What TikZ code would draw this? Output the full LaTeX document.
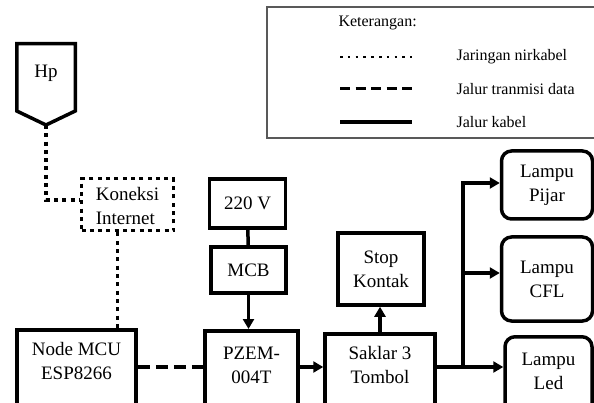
\documentclass[tikz,border=0pt]{standalone}
\usepackage{fontspec}
\setmainfont{Liberation Serif}
\usetikzlibrary{arrows.meta}

\begin{document}
\begin{tikzpicture}[x=1pt,y=-1pt,
  box/.style={draw,line width=3.5pt,align=center,font=\fontsize{19}{24}\selectfont},
  cutbox/.style={box,anchor=north,text depth=70pt},
  cable/.style={line width=3.5pt},
  arrowed/.style={cable,-{Triangle[length=10pt,width=11pt]}},
  wireless/.style={line width=3.5pt,dash pattern=on 4pt off 4.3pt},
  datapath/.style={line width=3.5pt,dash pattern=on 12pt off 6pt},
  legendtext/.style={anchor=west,font=\fontsize{16}{19}\selectfont}]
\useasboundingbox (0,0) rectangle (594,403);
\clip (0,0) rectangle (594,403);
% Legend
\draw[line width=1.2pt,black!65] (267,7) rectangle (610,138);
\node[legendtext] (ket) at (335,23) {Keterangan:};
\node[legendtext] (nirkabel) at (453,57) {Jaringan nirkabel};
\node[legendtext] (transmisi) at (453,89) {Jalur tranmisi data};
\node[legendtext] (kabel) at (453,122) {Jalur kabel};
\draw[line width=2.5pt,dash pattern=on 2.5pt off 5.3pt] ([xshift=-113pt]nirkabel.west) -- ++(72,0);
\draw[line width=3pt,dash pattern=on 10pt off 5.5pt] ([xshift=-113pt]transmisi.west) -- ++(72,0);
\draw[line width=3.5pt] ([xshift=-113pt]kabel.west) -- ++(72,0);
% Hp
\node[font=\fontsize{19}{24}\selectfont] (hp) at (46,73) {Hp};
\draw[cable] (16.75,43.75) -- (75.25,43.75) -- (75.25,111) -- (46,125) coordinate (hptip) -- (16.75,111) -- cycle;
% Boxes
\node[box,dash pattern=on 4pt off 4.3pt,line width=3pt,align=left,inner ysep=2pt,text height=40pt,text depth=0pt,minimum width=92pt,minimum height=52pt] (konek) at (127.5,205) {Koneksi\\Internet};
\node[box,minimum width=76pt,minimum height=49pt] (v220) at (247.5,203.5) {220 V};
\node[box,minimum width=75pt,minimum height=46pt] (mcb) at (248.5,270) {MCB};
\node[box,minimum width=86pt,minimum height=72pt] (stop) at (381,269) {Stop\\Kontak};
\node[box,rounded corners=10pt,minimum width=91pt,minimum height=68pt] (pijar) at (547,185) {Lampu\\Pijar};
\node[box,rounded corners=10pt,minimum width=91pt,minimum height=84pt] (cfl) at (547,279) {Lampu\\CFL};
\node[cutbox,inner ysep=13pt,minimum width=119pt] (mcu) at (76.5,328) {Node MCU\\ESP8266};
\node[cutbox,inner ysep=16pt,minimum width=93pt] (pzem) at (251.5,329) {PZEM-\\004T};
\node[cutbox,inner ysep=13pt,minimum width=110pt] (saklar) at (380,332) {Saklar 3\\Tombol};
\node[cutbox,inner ysep=16pt,rounded corners=10pt,minimum width=87pt] (led) at (548.5,335) {Lampu\\Led};
% Connections
\coordinate (bus) at (0,367);
\coordinate (split) at (463,367);
\draw[wireless] (hptip) |- (hptip |- 0,200) -- (konek.west |- 0,200);
\draw[wireless] ([xshift=-10pt]konek.south) -- ([xshift=-10pt]konek.south |- mcu.north);
\draw[cable] (v220) -- (mcb);
\draw[arrowed] (mcb.south) -- (mcb.south |- pzem.north);
\draw[datapath] (mcu.east |- bus) -- (pzem.west |- bus);
\draw[arrowed] (pzem.east |- bus) -- (saklar.west |- bus);
\draw[arrowed] (saklar.north) -- (saklar.north |- stop.south);
\draw[cable] (saklar.east |- bus) -- (split);
\draw[arrowed] (split) -- (led.west |- bus);
\draw[arrowed] (split) |- ([yshift=2pt]pijar.west);
\draw[arrowed] (split) |- ([yshift=6pt]cfl.west);
\end{tikzpicture}
\end{document}
